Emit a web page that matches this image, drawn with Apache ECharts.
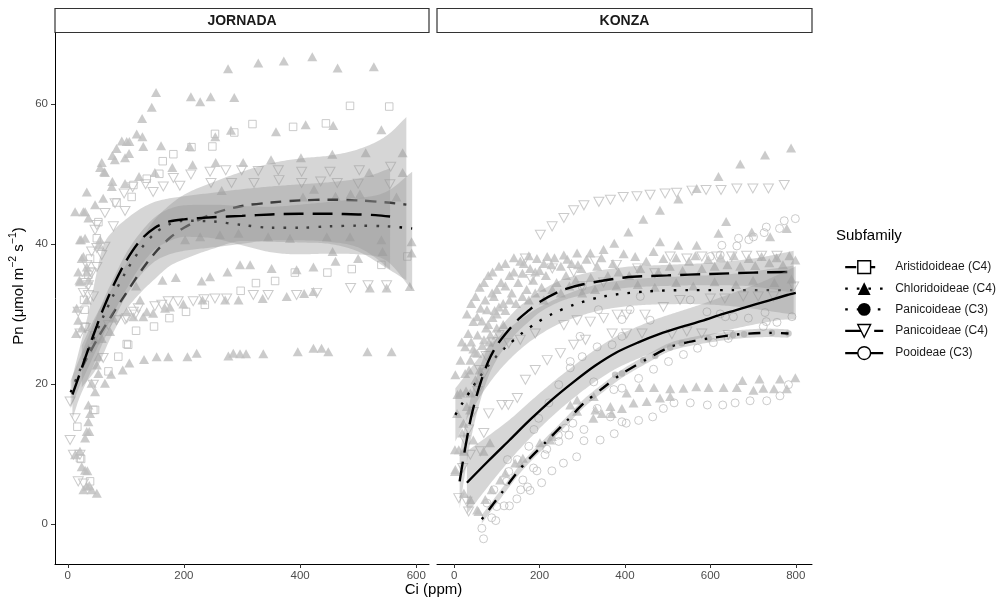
<!DOCTYPE html>
<html><head><meta charset="utf-8">
<script src="https://cdn.jsdelivr.net/npm/echarts@6/dist/echarts.min.js"></script>
<style>html,body{margin:0;padding:0;background:#fff}#c{width:1004px;height:602px}</style>
</head><body><div id="c"></div>
<script>
// ---------------- DATA (Ci ppm, Pn umol m-2 s-1) ----------------
const panels = ['JORNADA', 'KONZA'];
const groups = ['Aristidoideae (C4)', 'Chloridoideae (C4)', 'Panicoideae (C3)', 'Panicoideae (C4)', 'Pooideae (C3)'];
const jorTicksX = [0, 200, 400, 600];
const konTicksX = [0, 200, 400, 600, 800];
const ticksY = [0, 20, 40, 60];

// JORNADA points
const jorAristidoideae = [[486,59.7],[553.5,59.6],[318,57.1],[388,56.7],[444.5,57.2],[286.7,55.9],[253.5,55.7],[249,53.9],[213,53.8],[181.8,52.8],[163.5,51.8],[157.6,50],[136,49.3],[113,48.4],[110,46.7],[84,45.9],[52.7,43.1],[50,40.8],[38.4,37.9],[35.5,35.6],[28,32],[29,30.6],[30,28.2],[117.6,27.6],[104,25.6],[101.5,25.7],[87,23.9],[70,21.8],[148.5,28.2],[175,29.4],[203.6,30.3],[236,31.3],[297.7,33.3],[324,34.4],[357,34.7],[391,35.9],[447,35.9],[489,36.4],[540,37],[584.6,38.2],[47,16.3],[44,16.3],[16.5,13.9],[23,9.3],[21,9.4],[38.4,6.1]];
const jorChloridoideae = [[12.6,44.6],[26.8,44.6],[29.8,44.6],[35.5,43.7],[47,45.6],[61,46.5],[32.7,47.4],[21,40.6],[23,40.6],[29.8,40.8],[52.7,39.8],[55.6,40.6],[24,37.9],[26.8,38.2],[32.7,36.7],[18,36],[21,34.6],[32.7,36],[20,34.8],[35.5,34.8],[15.3,30.8],[32.7,32],[18,29.1],[24,28],[14.3,27.2],[35.5,25.1],[47,26.3],[58.5,26.5],[52.7,23.9],[50,22.7],[52.7,21.5],[64,20.1],[41,20.1],[47,18.9],[35.5,17],[38.4,15.8],[35.5,14.6],[32.7,13.2],[37,13.2],[29.8,12.3],[21,10.4],[12.6,9.9],[24,8.2],[29.8,7.7],[33.7,7.6],[32.7,5.4],[27,4.9],[37,5.5],[41,4.9],[50,4.4],
[72.8,27.5],[78.5,29.4],[101.5,30.3],[113,29.6],[130,29.6],[136,30.3],[124.4,32],[117.6,34],[147,30.1],[167.5,30.8],[176,31],[199,31.4],[163,34.8],[186,35.2],
[74.5,21.4],[94.6,22],[106,23],[131.3,23.5],[153,23.9],[173,23.9],[206,23.9],[222,24.4],[276.5,24],[285,24.4],[296.6,24.3],[307,24.3],[336.7,24.3],[396,24.6],[423,25.1],[437,25.1],[448.6,24.6],[516,24.6],[557.6,24.6],
[230.6,34.7],[245,35.3],[275,36],[296.6,37],[314,37],[351,36.5],[394,36.3],[423,36.7],[461,37.5],[456,38.9],[500,37.9],[542,38.9],[592,38.7],[232,32],[271,32],[294,32],[335.6,32.2],[377,32.5],[407,32.9],[423,33.2],[520,33.7],[549,33.7],[589,33.9],
[202,40.6],[228,41],[262,41.3],[294,41.5],[345,41],[382.6,40.8],[446,41],[486,41],[540,40.6],[592,40.3],
[265,47.6],[405,46.7],[424,47.8],[461,46.8],[487,47.1],[503,47.1],[566,46.7],
[55.6,50.9],[58.5,51.6],[62.5,50.3],[64,50.2],[75.7,48.2],[76.8,48.9],[98.6,48.6],[122.7,49.6],[150,50.2],[76.8,52.6],[81,52],[84,53.6],[93,54.7],[98.6,52.3],[101.5,54.6],[105.5,52.9],[106,54.6],[118.7,55.7],[128.5,55.3],[130,53.9],[128,57.9],[144.6,59.5],[152,61.6],[160.6,54],[180,50.9],
[210,53.9],[215,51.3],[254,55.3],[254.7,51.6],[281,56.2],[302,51.6],[350,52],[358.5,56],[401.5,52.3],[409.6,57],[455.5,52.8],[457,56.9],[513,53],[519,50.2],[540,56.3],[576.6,53],[576.6,50.2],
[212,61],[228,60.3],[246,61],[286.7,60.9],[276,65],[328,65.8],[372,66.1],[421,66.7],[464.6,65.1],[527,65.3]];
const jorPanicoideaeC4 = [[212,49.9],[245,50.3],[272,50.5],[299.5,50.5],[328,50.4],[362.5,50.5],[402.7,50.3],[451.5,50.3],[502,50.5],[556,51],
[193,48.3],[246.6,48.7],[282,48.7],[320.7,48.7],[363.7,49.1],[402.7,48.7],[435.5,48.9],[464,48.7],[500,48.6],[554.7,48.5],
[97,47.2],[111.7,48.1],[134,48.5],[147,47.4],[164.5,48.2],[181.8,49.4],[81.4,45.8],[98.6,44.7],[64,44.4],[78.5,42.5],[47,42],[50,39.4],[41,38.9],[32.7,37],[41,35.8],[35.5,34.1],[27,33],[50,42.7],[64,39.6],[58.5,38.4],[50,36.7],[38.4,36],[31.5,34.4],[35.5,32.7],[18,30.3],[21,27.2],
[216,31.8],[253.5,32.2],[273.6,32.2],[319.5,32.7],[345,32.7],[394,32.7],[428.6,33],[487,33.7],[517,34.1],[549,34.1],[121.5,30.8],[150,31.1],[161.8,31.3],[173,31.8],[190,31.8],[234.6,32.1],[101.5,29.4],[113,30.3],[98.6,29.2],[116,29.9],[70,28.4],[84,29.1],[47,26.8],[61,23.7],[44,19.9],[44,32.5],[30,28],
[4,17.5],[12.6,15.1],[4,12],[9.7,9.9],[21,9.9],[18,6.1],[27,5.8]];

// JORNADA fitted curves and confidence bands
const jorAristX = [24,50,75,100,125,150,175,200,250,300,350,400,450,500,550,583];
const jorAristFit = [22.3,26.3,29.7,32.9,36,38.7,40.8,42.3,44.3,45.4,45.9,46.2,46.3,46.2,45.9,45.6];
const jorAristHi = [25.5,30,33.5,37,40.5,43.5,45.5,47,48.8,50.3,51.5,52.2,52.6,53.5,55.5,58.1];
const jorAristLo = [19.5,22.3,26.8,30.5,33,35,36.8,37.8,39.3,40.4,40.3,40.2,40,38.9,36.5,34.8];
const jorChlorX = [5,20,40,60,80,100,125,150,175,200,250,300,350,400,450,500,550,593];
const jorChlorFit = [18.8,21.8,25.7,29.4,32.9,36,39.2,41.5,42.8,43.3,43.2,42.7,42.3,42.3,42.5,42.6,42.5,42.2];
const jorChlorHi = [20.5,23.6,27.7,31.7,35.3,38.6,41.6,43.8,45,45.5,45.6,45.4,45.3,45.6,46,46.5,47.5,50.3];
const jorChlorLo = [16.5,19.6,23.2,26.8,30.3,33.4,36.8,39.2,40.4,41,40.8,39.8,38.8,38.5,38.6,38.5,37.5,33.4];
const jorPanC4X = [8,20,35,50,60,80,100,125,150,175,200,250,300,350,400,450,500,530,555];
const jorPanC4Fit = [18.5,21.3,24.9,28.3,30.5,34.3,37.5,40.5,42.3,43.2,43.5,43.8,44,44.2,44.3,44.3,44.2,44.1,43.9];
const jorPanC4Hi = [21,25,30,36,39.5,42,43.5,45,46,46.5,46.8,47.3,47.8,48.2,48.5,48.8,49.3,50,50.8];
const jorPanC4Lo = [15,18,20.8,23.8,25.8,29.3,32.5,35.5,37.5,38.5,39,39.5,40,40.5,40.5,40.3,39.5,38,36.3];

// KONZA points
const konChloridoideae = [[2,7.5],[3,7.8],[2,10.6],[11,10.6],[7,15.8],[15,18.7],[19,13],[22,14.4],[23,10.4],[26,21.5],[30,16.8],[37.5,16.3],[38,18.7],[38,23.4],[45,12],[50,20.6],[54,24.4],[54,29.6],[69,10.4],[70,26.3],[77,30.6],[84,11.6],[93,32.5],[60,22],[85,27],[100,30],[18,26],[40,26],[8,18.5],[28,19],
[30,30],[40,31.5],[50,32.5],[60,33.8],[70,34.5],[80,35.5],[90,36],[105,36.8],[120,37.2],[140,38],[155,37.5],[175,38.3],[190,36],[210,37.2],[235,38],[265,37.8],[290,37],
[45,25],[55,27],[65,29],[75,28],[90,29.5],[105,31],[120,30.5],[130,32],[145,31.5],[160,32.5],[175,32],[190,33],[210,32],[230,33.5],[250,33],[270,34],[35,22],[48,24.5],[66,25.5],[82,26],[100,28],[115,28.5],
[3,21.3],[15,23.4],[26,25.3],[33,27.2],[45,28.9],[62,30.8],[73,32],[89,33],[110,34.5],[130,35.5],[163,37.2],[194,37.9],[218,38.2],[257,38.4],[288,38.7],[319,38.7],[350,39.2],[375,40.1],[408,41.7],[443,43.5],[482,44.8],[525,46.4],[568,47.9],[619,49.6],[670,51.4],[728,52.7],[789,53.7],
[482,40.3],[525,39.8],[568,39.8],[619,41.5],[637,43.2],[697,41.7],[740,41],[779,42.2],
[80,28.5],[95,30.5],[100,33.5],[115,31.5],[120,34],[135,33],[140,36],[150,34.5],[160,35.8],[170,33.5],[178,36.5],[185,34.8],[200,36.2],[205,33.8],[215,35.5],[228,37],[240,34.5],[250,36.8],[262,35.5],[275,37.2],[285,34.8],[298,36.5],[310,37.8],[320,35.2],[335,36.8],[345,38],[360,35.5],[372,37.2],[385,36],[397,38.6],[410,35.5],[424,38.2],[436,36.5],[450,37.5],[467,38.9],[478,36],[490,37.9],[505,36.8],[520,38],[535,36.2],[550,37.5],[565,38.3],[580,36.5],[595,37.8],[610,36.8],[625,38],[640,37],[655,38.3],[670,36.8],[690,37.9],[705,36.9],[720,38.2],[738,37.3],[755,38],[770,37],[785,38.3],[799,37.7],
[300,33],[330,33.5],[380,34],[430,34.2],[470,33.8],[520,34.5],[560,34],[610,34.6],[660,34.2],[700,34.8],[750,34.5],[790,35],
[57,1.8],[73,3.5],[88,4.9],[108,6.3],[23,4.4],[38,3.5],[54,2],[120,7.3],[143,8.7],[155,8.7],[161,9.4],[201,11.6],[225,12],[229,12.5],[272,17],[288,16.1],[288,17.7],[326,15.1],[327,18.2],[331,16.3],[346,15.8],[366,16.8],[369,15.8],[393,16.5],[420,17.3],[451,17.5],[482,18],[506,18.2],
[404,18.7],[434,19.5],[468,19.5],[506,19.3],[537,19.4],[567,19.6],[596,19.5],[631,19.5],[662,19.5],[675,20.5],[701,19.1],[715,20.7],[724,19.4],[749,19.3],[763,20.7],[779,19.3],[799,20.9]];
const konPanicoideaeC3 = [[377,21.3],[393,21.5],[443,23.4],[471,24],[506,25.2],[533,25.8],[596,26.5],[653,27],[679,27.1],[744,27.3],[783,27.2]];
const konPanicoideaeC4 = [[167,37.9],[202,41.3],[229.5,42.5],[257,43.7],[280,44.8],[304,45.5],[339,46],[366,46.3],[396,46.7],[428,46.8],[459,47],[494,47.2],[521,47.3],[557,47.6],[590,47.7],[625,47.7],[662,47.9],[699.5,47.9],[736,47.9],[773,48.4],
[506,38.2],[545,37.9],[580,38.2],[615,38.2],[650,38.2],[685,38.3],[720,38.3],[756,38.3],
[180,35],[230,36.5],[280,36],[330,37.5],[380,37],[430,36.5],[470,35.8],[300,34],[350,34.5],
[60,22],[75,24],[90,26],[105,27],[128,25.8],[155,26.3],[190,27.2],[257,28.4],[288,29.1],[319,28.9],[350,29.4],[382,29.9],[404,29.9],[447,29.9],[490,31],[529,32],[600,32.2],[634,32.2],[677,32.5],[712,32.5],[748,32.5],[795,33.9],
[148,18],[167,20.6],[190,22],[218,23.4],[249,24.4],[280,25.6],[307.6,26.3],[370,27.2],[404,27.2],[440,27.2],[510,27.1],[545,27.5],[580,27.2],[642,27],
[11,3.7],[30,3.2],[34,1.8],[20,8],[25,12],[34,13.5],[38,9.9],[45,16],[55,19],[62,10.4],[69.6,13],[70,21.5],[81,15.8],[112,17],[127,17]];
const konPooideae = [[65,-0.6],[69,-2.1],[88,0.9],[97.6,0.5],[100,2.5],[117,2.6],[129.6,2.6],[147,3.6],[156,4.9],[172,5.3],[178,4.8],[186,8],[194,7.6],[205,5.9],[229,7.6],[256,8.7],[287,9.6],[125,9.2],[123,6.1],[161,6.3],[213,9.9],[217,10.7],[244,12.7],[260,13.7],[278,14.4],[304,11.9],[342,12],[375,12.9],[403,14.4],[432,14.8],[465,15.3],[490,16.5],[515,17.3],[553,17.3],[593,17],[629,17],[658,17.3],[693,17.6],[732,17.6],[763,18.3],[783,19.9],[77,3],
[93,4.9],[128,7.5],[148,9.2],[175,11.1],[187,13.5],[198,15.1],[222,17.3],[245,19.9],[272,22.3],[300,23.9],[245,11.8],[269,12.7],[304,13.5],[393,14.6],[366,15.3],[335,16.5],[393,19.4],[374,19.2],[327,20.3],[272,23.2],[335,25.3],[370,25.6],[393,26.8],[393,29.2],[432,20.8],[467,22.1],[502,23.2],[537,24.2],[570,25.1],[607,25.9],[642,26.5],
[300,33.9],[295,26.8],[338,30.6],[412,30.6],[436,32.5],[459,29.1],[553,32],[592,30.3],[623,30],[635,29.6],[654,29.6],[689,29.4],[728,30.2],[731,28.9],[756,28.8],[791,29.6],[724,28.2],
[799,43.6],[773,43.3],[762,42.2],[731,42.4],[726,41.6],[701,41],[690,40.6],[666,40.8],[662,39.7],[627,39.8],[623,38.4],[600,38.2]];

// KONZA fitted curves and confidence bands
const konChlorX = [3,20,40,60,80,100,120,160,195,230,280,350,450,550,650,795];
const konChlorFit = [15.6,17.3,19.2,21,22.6,24,25.2,27.3,28.8,30,31.3,32.5,33.2,33.4,33.4,33.4];
const konChlorHi = [19.4,20.7,22.3,23.9,25.3,26.5,27.5,29.4,30.8,31.9,33.2,34.4,35.1,35.4,35.7,36.9];
const konChlorLo = [11.8,13.9,16.1,18.1,19.9,21.5,22.9,25.2,26.8,28.1,29.4,30.6,31.3,31.4,31.1,29.9];
const konPanC3X = [65,112,159,213,268,303,350,389,447,506,550,596,670,740,783];
const konPanC3Fit = [0.7,4.5,8.2,11.6,15,17.2,19.5,21.3,23.4,25.3,26,26.5,27.1,27.3,27.2];
const konPanC3Hi = [1.3,5.1,8.8,12.2,15.6,17.8,20.1,21.9,24,25.9,26.6,27.1,27.7,27.9,27.8];
const konPanC3Lo = [0.1,3.9,7.6,11,14.4,16.6,18.9,20.7,22.8,24.7,25.4,25.9,26.5,26.7,26.6];
const konPanC4X = [13,25,40,60,80,100,125,150,175,200,250,300,400,500,600,700,795];
const konPanC4Fit = [6.1,10.5,15.3,19.8,23.2,25.5,27.5,29.2,30.5,31.7,33.3,34.2,35.2,35.5,35.7,35.9,36];
const konPanC4Hi = [10,14,18.3,22.3,25.4,27.5,29.3,30.9,32.1,33.2,34.8,35.7,36.7,37,37.3,37.9,39];
const konPanC4Lo = [2.2,7,12.3,17.3,21,23.5,25.7,27.5,28.9,30.2,31.8,32.7,33.7,34,34.1,33.9,33];
const konPooX = [30,80,130,180,230,280,330,380,430,480,530,580,630,680,730,780,800];
const konPooFit = [5.9,9,12,15,17.8,20.3,22.6,24.5,25.9,27.1,28.1,29,30,30.9,31.8,32.7,33];
const konPooHi = [10.4,12.6,14.9,17.6,20.2,22.6,24.9,26.8,28.2,29.4,30.4,31.4,32.5,33.6,34.8,36.2,36.8];
const konPooLo = [1.4,5.4,9.1,12.4,15.4,18,20.3,22.2,23.6,24.8,25.8,26.6,27.5,28.2,28.8,29.2,29.2];

// ---------------- STYLE ----------------
const FONT = 'Liberation Sans';
const GREY = '#bebebe';
const BANDFILL = 'rgba(153,153,153,0.4)';
const DASH = { dashed: [11, 8], dotted: [2.6, 9], longdash: [20, 9], dotdash: [2.6, 9, 12, 9] };
const DOWN = 'path://M0,0L10,0L5,8.7Z';

// monotone cubic outline through pixel points (rendering only)
function smoothPts(p) {
  const n = p.length; if (n < 3) return p.slice();
  const d = [], m = [];
  for (let i = 0; i < n - 1; i++) d.push((p[i+1][1] - p[i][1]) / (p[i+1][0] - p[i][0]));
  m[0] = d[0]; m[n-1] = d[n-2];
  for (let i = 1; i < n - 1; i++) m[i] = (d[i-1] * d[i] <= 0) ? 0 : (d[i-1] + d[i]) / 2;
  for (let i = 0; i < n - 1; i++) {
    if (d[i] === 0) { m[i] = 0; m[i+1] = 0; continue; }
    const a = m[i] / d[i], b = m[i+1] / d[i], s = a*a + b*b;
    if (s > 9) { const t = 3 / Math.sqrt(s); m[i] = t*a*d[i]; m[i+1] = t*b*d[i]; }
  }
  const out = [];
  for (let i = 0; i < n - 1; i++) {
    const h = p[i+1][0] - p[i][0];
    const steps = Math.max(2, Math.ceil(Math.abs(h) / 2));
    for (let k = 0; k < steps; k++) {
      const t = k / steps, t2 = t*t, t3 = t2*t;
      const y = (2*t3 - 3*t2 + 1)*p[i][1] + (t3 - 2*t2 + t)*h*m[i] + (-2*t3 + 3*t2)*p[i+1][1] + (t3 - t2)*h*m[i+1];
      out.push([p[i][0] + t*h, y]);
    }
  }
  out.push(p[n-1]);
  return out;
}

function band(xs, lo, hi, g, z) {
  return {
    type: 'custom', xAxisIndex: g, yAxisIndex: g, z: z, silent: true, clip: true,
    data: xs.map((x, i) => [x, lo[i], hi[i]]),
    encode: { x: 0, y: [1, 2] },
    renderItem: function (params, api) {
      if (params.dataIndex !== 0) return null;
      const up = xs.map((x, i) => api.coord([x, hi[i]]));
      const dn = xs.map((x, i) => api.coord([x, lo[i]]));
      const pts = smoothPts(up).concat(smoothPts(dn).reverse());
      return { type: 'polygon', shape: { points: pts }, style: { fill: BANDFILL } };
    }
  };
}

function fit(name, xs, ys, g, dash, sym, z) {
  return {
    type: 'line', name: name, xAxisIndex: g, yAxisIndex: g, z: z, silent: true,
    data: xs.map((x, i) => [x, ys[i]]),
    symbol: sym, showSymbol: false, smooth: 0.3,
    lineStyle: { color: '#000', width: 2.4, type: dash, cap: 'butt' },
    itemStyle: { color: '#000' }, emphasis: { disabled: true }
  };
}

const MARK = {
  square: { symbol: 'rect', symbolSize: 7.5, itemStyle: { color: 'rgba(0,0,0,0)', borderColor: GREY, borderWidth: 1 } },
  tri: { symbol: 'triangle', symbolSize: [10, 9], itemStyle: { color: GREY } },
  dot: { symbol: 'circle', symbolSize: 6.5, itemStyle: { color: GREY } },
  down: { symbol: DOWN, symbolSize: [10, 9], itemStyle: { color: 'rgba(0,0,0,0)', borderColor: GREY, borderWidth: 1 } },
  ring: { symbol: 'circle', symbolSize: 8, itemStyle: { color: 'rgba(0,0,0,0)', borderColor: GREY, borderWidth: 1 } }
};
function pts(data, g, kind) {
  return Object.assign({ type: 'scatter', xAxisIndex: g, yAxisIndex: g, z: 1, silent: true, data: data, emphasis: { disabled: true } }, MARK[kind]);
}

const series = [
  pts(jorAristidoideae, 0, 'square'), pts(jorChloridoideae, 0, 'tri'), pts(jorPanicoideaeC4, 0, 'down'),
  pts(konChloridoideae, 1, 'tri'), pts(konPanicoideaeC3, 1, 'dot'), pts(konPanicoideaeC4, 1, 'down'), pts(konPooideae, 1, 'ring'),
  band(jorAristX, jorAristLo, jorAristHi, 0, 2), fit(groups[0], jorAristX, jorAristFit, 0, DASH.dashed, 'rect', 3),
  band(jorChlorX, jorChlorLo, jorChlorHi, 0, 4), fit(groups[1], jorChlorX, jorChlorFit, 0, DASH.dotted, 'triangle', 5),
  band(jorPanC4X, jorPanC4Lo, jorPanC4Hi, 0, 8), fit(groups[3], jorPanC4X, jorPanC4Fit, 0, DASH.longdash, DOWN, 9),
  band(konChlorX, konChlorLo, konChlorHi, 1, 4), fit(groups[1], konChlorX, konChlorFit, 1, DASH.dotted, 'triangle', 5),
  band(konPanC3X, konPanC3Lo, konPanC3Hi, 1, 6), fit(groups[2], konPanC3X, konPanC3Fit, 1, DASH.dotdash, 'circle', 7),
  band(konPanC4X, konPanC4Lo, konPanC4Hi, 1, 8), fit(groups[3], konPanC4X, konPanC4Fit, 1, DASH.longdash, DOWN, 9),
  band(konPooX, konPooLo, konPooHi, 1, 10), fit(groups[4], konPooX, konPooFit, 1, 'solid', 'circle', 11)
];

function xAxis(g, min, max, ticks) {
  return {
    type: 'value', gridIndex: g, min: min, max: max,
    axisLine: { show: true, onZero: false, lineStyle: { color: '#000', width: 1 } },
    axisTick: { show: true, length: 4, customValues: ticks, lineStyle: { color: '#333', width: 1 } },
    axisLabel: { customValues: ticks, color: '#4d4d4d', fontSize: 11.5, fontFamily: FONT, margin: 6 },
    splitLine: { show: false }
  };
}

const legendIcons = [
  { name: groups[0], itemStyle: { color: '#fff', borderColor: '#000', borderWidth: 1.4 }, lineStyle: { color: '#000', width: 2.4, type: DASH.dashed } },
  { name: groups[1], itemStyle: { color: '#000', borderWidth: 0 }, lineStyle: { color: '#000', width: 2.4, type: DASH.dotted } },
  { name: groups[2], itemStyle: { color: '#000', borderWidth: 0 }, lineStyle: { color: '#000', width: 2.4, type: DASH.dotdash } },
  { name: groups[3], itemStyle: { color: '#fff', borderColor: '#000', borderWidth: 1.4 }, lineStyle: { color: '#000', width: 2.4, type: DASH.longdash } },
  { name: groups[4], itemStyle: { color: '#fff', borderColor: '#000', borderWidth: 1.4 }, lineStyle: { color: '#000', width: 2.4, type: 'solid' } }
];

const option = {
  animation: false,
  backgroundColor: '#fff',
  grid: [
    { left: 55, top: 33, width: 374, height: 531 },
    { left: 437, top: 33, width: 375, height: 531 }
  ],
  xAxis: [xAxis(0, -22, 622, jorTicksX), xAxis(1, -40, 838, konTicksX)],
  yAxis: [
    { type: 'value', gridIndex: 0, min: -5.7, max: 70.1,
      axisLine: { show: true, onZero: false, lineStyle: { color: '#000', width: 1 } },
      axisTick: { show: true, length: 4, customValues: ticksY, lineStyle: { color: '#333', width: 1 } },
      axisLabel: { customValues: ticksY, color: '#4d4d4d', fontSize: 11.5, fontFamily: FONT, margin: 7 },
      splitLine: { show: false } },
    { type: 'value', gridIndex: 1, min: -5.7, max: 70.1, show: false, splitLine: { show: false } }
  ],
  legend: {
    orient: 'vertical', left: 839, top: 255, itemWidth: 38, itemHeight: 16, itemGap: 8,
    selectedMode: false, data: legendIcons,
    textStyle: { fontSize: 12, fontFamily: FONT, color: '#1a1a1a', padding: [0, 0, 0, 7] }
  },
  graphic: [
    { type: 'rect', shape: { x: 55, y: 8.5, width: 374, height: 24 }, style: { fill: '#fff', stroke: '#333', lineWidth: 1.2 } },
    { type: 'text', x: 242, y: 21, style: { text: panels[0], fontFamily: FONT, fontSize: 14, fontWeight: 'bold', fill: '#1a1a1a', align: 'center', verticalAlign: 'middle' } },
    { type: 'rect', shape: { x: 437, y: 8.5, width: 375, height: 24 }, style: { fill: '#fff', stroke: '#333', lineWidth: 1.2 } },
    { type: 'text', x: 624.5, y: 21, style: { text: panels[1], fontFamily: FONT, fontSize: 14, fontWeight: 'bold', fill: '#1a1a1a', align: 'center', verticalAlign: 'middle' } },
    { type: 'text', x: 433.5, y: 590, style: { text: 'Ci (ppm)', fontFamily: FONT, fontSize: 15, fill: '#000', align: 'center', verticalAlign: 'middle' } },
    { type: 'text', x: 836, y: 236, style: { text: 'Subfamily', fontFamily: FONT, fontSize: 15, fill: '#000', align: 'left', verticalAlign: 'middle' } },
    { type: 'text', x: 19, y: 286, rotation: Math.PI / 2,
      style: { text: '{a|Pn (μmol m}{s|−2}{a| s}{s|−1}{a|)}', align: 'center', verticalAlign: 'middle',
        rich: { a: { fontFamily: FONT, fontSize: 15, fill: '#000', lineHeight: 22 },
                s: { fontFamily: FONT, fontSize: 10.5, fill: '#000', lineHeight: 10, verticalAlign: 'top' } } } }
  ],
  series: series
};

const chart = echarts.init(document.getElementById('c'), null, { renderer: 'canvas' });
chart.setOption(option);
</script></body></html>
